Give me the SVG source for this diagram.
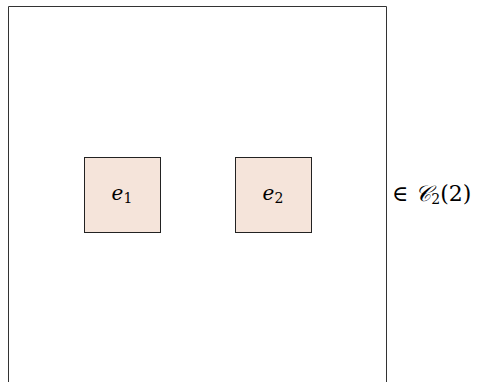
<svg xmlns="http://www.w3.org/2000/svg" width="486" height="382" viewBox="0 0 486 382">
<style>
.frame{fill:none;stroke:#333;stroke-width:1}
.node{fill:#f5e4da;stroke:#222;stroke-width:1}
.lbl{font-family:"DejaVu Serif","Liberation Serif",serif;font-size:20px;fill:#000}
.it{font-style:italic}
.sub{font-size:14px}
.big{font-size:22px}
</style>
<rect width="486" height="382" fill="#fff"/>
<path class="frame" d="M8.5,390 V6.5 H386.5 V390"/>
<g id="e1">
<rect class="node" x="84.5" y="157.5" width="76" height="75"/>
<text class="lbl" x="122" y="200" text-anchor="middle"><tspan class="it">e</tspan><tspan class="sub" dy="3">1</tspan></text>
</g>
<g id="e2">
<rect class="node" x="235.5" y="157.5" width="76" height="75"/>
<text class="lbl" x="273" y="200" text-anchor="middle"><tspan class="it">e</tspan><tspan class="sub" dy="3">2</tspan></text>
</g>
<g id="connectors"></g>
<text class="lbl big" x="392" y="201">∈ <tspan class="it">𝒞</tspan><tspan class="sub" dy="3">2</tspan><tspan dy="-3">(2)</tspan></text>
</svg>
